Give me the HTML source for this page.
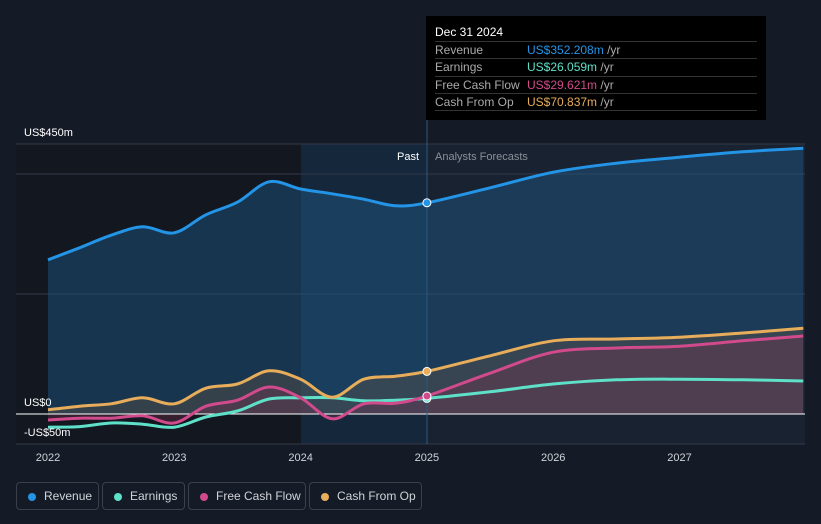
<!DOCTYPE html>
<html><head><meta charset="utf-8"><style>
body{margin:0;background:#151b26;width:821px;height:524px;overflow:hidden;font-family:"Liberation Sans",sans-serif}
svg text{font-family:"Liberation Sans",sans-serif}
.leg{position:absolute;top:482px;height:28px;border:1px solid #3a414c;border-radius:4px;color:#d0d3d8;font-size:12px;line-height:27px;padding:0 0 0 27px;box-sizing:border-box}
.leg i{position:absolute;left:11px;top:10px;width:8px;height:8px;border-radius:50%}
</style></head><body>
<svg id="c" width="821" height="524" style="position:absolute;left:0;top:0"></svg>
<div class="leg" style="left:16px;width:83px"><i style="background:#2394e6"></i>Revenue</div>
<div class="leg" style="left:102px;width:83px"><i style="background:#5fe0c8"></i>Earnings</div>
<div class="leg" style="left:188px;width:118px"><i style="background:#d04a8c"></i>Free Cash Flow</div>
<div class="leg" style="left:309px;width:113px"><i style="background:#e8ad5a"></i>Cash From Op</div>
<div style="position:absolute;left:426px;top:16px;width:340px;height:104px;background:#000;color:#fff;font-size:12px">
<div style="position:absolute;left:9px;top:9px">Dec 31 2024</div>
<div style="position:absolute;left:9px;right:9px;top:25px;border-top:1px solid #333"></div>
<div style="position:absolute;left:9px;right:9px;top:42px;border-top:1px solid #333"></div>
<div style="position:absolute;left:9px;right:9px;top:60px;border-top:1px solid #333"></div>
<div style="position:absolute;left:9px;right:9px;top:77px;border-top:1px solid #333"></div>
<div style="position:absolute;left:9px;right:9px;top:94px;border-top:1px solid #333"></div>
<div style="position:absolute;left:9px;top:27px;color:#aaa">Revenue</div><div style="position:absolute;left:101px;top:27px;color:#2394e6">US$352.208m <span style="color:#aaa">/yr</span></div>
<div style="position:absolute;left:9px;top:44px;color:#aaa">Earnings</div><div style="position:absolute;left:101px;top:44px;color:#5fe0c8">US$26.059m <span style="color:#aaa">/yr</span></div>
<div style="position:absolute;left:9px;top:62px;color:#aaa">Free Cash Flow</div><div style="position:absolute;left:101px;top:62px;color:#d04a8c">US$29.621m <span style="color:#aaa">/yr</span></div>
<div style="position:absolute;left:9px;top:79px;color:#aaa">Cash From Op</div><div style="position:absolute;left:101px;top:79px;color:#e8ad5a">US$70.837m <span style="color:#aaa">/yr</span></div>
</div>
<script>
const years=[2022,2022.25,2022.5,2022.75,2023,2023.25,2023.5,2023.75,2024,2024.25,2024.5,2024.75,2025,2025.5,2026,2026.5,2027,2027.5,2027.98];
const revenue=[257,277,298,312,302,332,353,387,375,367,358,347,352,377,403,418,428,437,443];
const earnings=[-22,-21,-15,-17,-22,-5,5,25,27,27,22,23,26,37,50,57,58,57,55];
const fcf=[-10,-7,-7,-3,-15,13,23,45,27,-8,17,18,30,68,103,110,113,122,130];
const cfo=[7,13,17,27,17,43,50,72,58,28,58,63,71,97,122,125,128,135,143];
const xTicks=[2022,2023,2024,2025,2026,2027];
const yTicks=[{v:450,l:"US$450m"},{v:0,l:"US$0"},{v:-50,l:"-US$50m"}];
const X=t=>48+(t-2022)*126.3, Y=v=>414-0.6*v;
const NS="http://www.w3.org/2000/svg",svg=document.getElementById('c');
function mk(tag,a,name){const e=document.createElementNS(NS,tag);for(const k in a)e.setAttribute(k,a[k]);


svg.appendChild(e);return e;}
mk('rect',{x:16,y:144,width:285,height:300,fill:'#121720'},'past-bg');
mk('rect',{x:301,y:144,width:126,height:300,fill:'#16314a',opacity:0.6},'past-highlight');
mk('rect',{x:427,y:144,width:378,height:300,fill:'#192230'},'forecast-bg');
[144,174,294,444].forEach(y=>mk('line',{x1:16,x2:805,y1:y,y2:y,stroke:'#323a47'},'gridline'));
function path(arr){const p=years.map((t,i)=>[X(t),Y(arr[i])]);let d='M'+p[0][0].toFixed(1)+','+p[0][1].toFixed(1);
for(let i=0;i<p.length-1;i++){const a=p[Math.max(0,i-1)],b=p[i],c=p[i+1],e=p[Math.min(p.length-1,i+2)];
const c1=[b[0]+(c[0]-a[0])/6,b[1]+(c[1]-a[1])/6],c2=[c[0]-(e[0]-b[0])/6,c[1]-(e[1]-b[1])/6];
d+='C'+c1[0].toFixed(1)+','+c1[1].toFixed(1)+' '+c2[0].toFixed(1)+','+c2[1].toFixed(1)+' '+c[0].toFixed(1)+','+c[1].toFixed(1);}
return d;}
function area(arr,fill,op,name){mk('path',{d:path(arr)+'L'+X(years[years.length-1])+','+Y(0)+'L'+X(years[0])+','+Y(0)+'Z',fill:fill,opacity:op},name);}
area(revenue,'#1e5a8a',0.45,'revenue-area');
area(cfo,'#6b5a45',0.35,'cfo-area');
area(fcf,'#7a3050',0.35,'fcf-area');
mk('line',{x1:16,x2:805,y1:414,y2:414,stroke:'#fff'},'zero-line');
mk('line',{x1:427,x2:427,y1:120,y2:444,stroke:'#2a5a80'},'cursor-line');
[[revenue,'#2394e6','revenue-line'],[earnings,'#5fe0c8','earnings-line'],[fcf,'#d04a8c','fcf-line'],[cfo,'#e8ad5a','cfo-line']].forEach(([a,c,n])=>{
mk('path',{d:path(a),fill:'none',stroke:c,'stroke-width':3,'stroke-linejoin':'round'},n);
mk('circle',{cx:X(2025),cy:Y(a[12]),r:4,fill:c,stroke:'#fff','stroke-width':1},n+'-point');});
yTicks.forEach(t=>{const e=mk('text',{x:24,y:Y(t.v)-8,fill:'#fff','font-size':11},'y-label');e.textContent=t.l;});
xTicks.forEach(t=>{const e=mk('text',{x:X(t),y:461,fill:'#d0d3d8','font-size':11,'text-anchor':'middle'},'x-label');e.textContent=t;});
let e=mk('text',{x:419,y:160,fill:'#fff','font-size':11,'text-anchor':'end'},'past-label');e.textContent='Past';
e=mk('text',{x:435,y:160,fill:'#8a909a','font-size':11},'forecast-label');e.textContent='Analysts Forecasts';
</script>
</body></html>
